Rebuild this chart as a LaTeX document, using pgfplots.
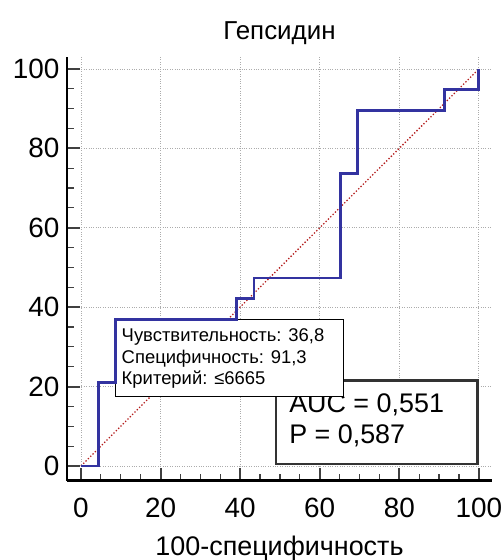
\documentclass[border=0pt]{standalone}
\usepackage{fontspec}
\setmainfont{Liberation Sans}
\usepackage{pgfplots}
\pgfplotsset{compat=1.18}

\definecolor{roc}{RGB}{51,51,160}
\definecolor{diag}{RGB}{180,30,30}

\begin{document}
\begin{tikzpicture}
\useasboundingbox (-67bp,-79.3bp) rectangle (437bp,480.7bp);
\begin{axis}[
  at={(0,0)}, anchor=south west,
  scale only axis, width=425bp, height=423.7bp,
  xmin=-3.5, xmax=103.3, ymin=-3.7, ymax=103,
  axis lines=left,
  axis line style={-, line width=2.5bp, black},
  xtick={0,20,...,100}, ytick={0,20,...,100},
  minor tick num=3,
  tick align=inside,
  major tick length=13bp, minor tick length=7bp,
  every major tick/.style={line width=2bp, draw=black!75},
  every minor tick/.style={line width=1.2bp, draw=black!75},
  grid=major,
  major grid style={dotted, gray!65, line width=0.8bp},
  /pgf/number format/assume math mode=true,
  tick label style={font=\fontsize{28}{28}\selectfont},
  xticklabel style={yshift=-14bp},
  yticklabel style={xshift=-4bp},
  title={Гепсидин},
  title style={font=\fontsize{26}{26}\selectfont, yshift=3bp},
  xlabel={100-специфичность},
  xlabel style={font=\fontsize{27}{27}\selectfont, yshift=-11bp},
  clip=false,
]
% reference line of no discrimination
\addplot[dotted, diag, line width=1.3bp] coordinates {(0,0) (100,100)};

% summary box
\draw[fill=white, draw=black!80, line width=2.5bp] (axis cs:49,0.5) rectangle (axis cs:99.6,21.5);
\node[anchor=west, inner sep=0pt, font=\fontsize{27}{27}\selectfont] at (axis cs:52.3,15.4) {AUC = 0,551};
\node[anchor=west, inner sep=0pt, font=\fontsize{27}{27}\selectfont] at (axis cs:52.3,7.6) {P = 0,587};

% optimal criterion box
\draw[fill=white, draw=black, line width=0.8bp] (axis cs:8.7,17.6) rectangle (axis cs:66.0,36.84);
\node[anchor=west, inner sep=0pt, font=\fontsize{18.5}{18.5}\selectfont] at (axis cs:10.2,32.6) {Чувствительность: 36,8};
\node[anchor=west, inner sep=0pt, font=\fontsize{18.5}{18.5}\selectfont] at (axis cs:10.2,27.1) {Специфичность: 91,3};
\node[anchor=west, inner sep=0pt, font=\fontsize{18.5}{18.5}\selectfont] at (axis cs:10.2,21.7) {Критерий: ≤6665};

% ROC curve
\addplot[roc, line width=2.8bp, line join=miter] coordinates {
  (0,0) (4.35,0) (4.35,21.05) (8.70,21.05) (8.70,36.84) (39.13,36.84)
  (39.13,42.11) (43.48,42.11) (43.48,47.37) (65.22,47.37) (65.22,73.68)
  (69.57,73.68) (69.57,89.47) (91.30,89.47) (91.30,94.74) (100,94.74) (100,100)
};
\end{axis}
\end{tikzpicture}
\end{document}
